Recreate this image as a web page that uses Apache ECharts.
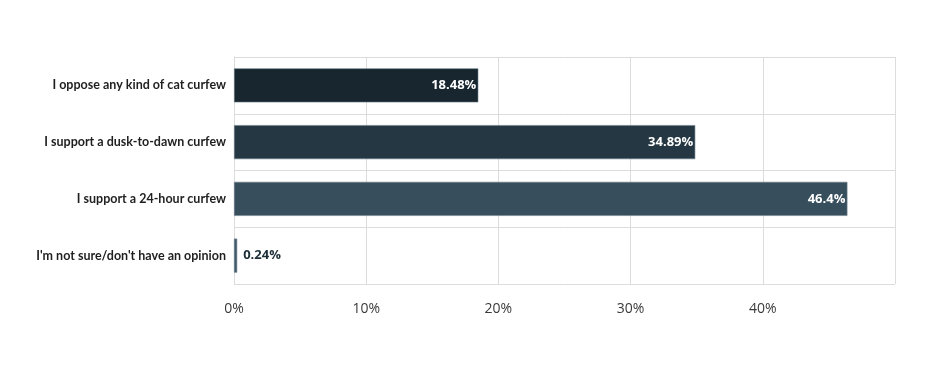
<!DOCTYPE html>
<html><head><meta charset="utf-8">
<script src="https://cdn.jsdelivr.net/npm/echarts@6/dist/echarts.min.js"></script>
<style>html,body{margin:0;padding:0;background:#fff}#c{width:950px;height:388px}</style>
</head><body><div id="c"></div>
<script>
var categories = ["I oppose any kind of cat curfew", "I support a dusk-to-dawn curfew", "I support a 24-hour curfew", "I'm not sure/don't have an opinion"];
var values = [18.48, 34.89, 46.4, 0.24];
var barColors = ["#17262f", "#243742", "#374e5d", "#3d5869"];
var xTicks = [0, 10, 20, 30, 40, 50];

var chart = echarts.init(document.getElementById('c'), null, {renderer: 'canvas'});
var data = values.map(function (v, i) {
  var inside = v > 5;
  return {
    value: v,
    itemStyle: {color: barColors[i], borderColor: '#6d808b', borderWidth: 0.6},
    label: inside ? {position: 'insideRight', color: '#ffffff', offset: [3, 0]} : {position: 'right', color: '#1c2e38', offset: [1, 0]}
  };
});
chart.setOption({
  animation: false,
  grid: {left: 234, right: 55, top: 57, bottom: 104, containLabel: false},
  xAxis: {
    type: 'value', min: xTicks[0], max: xTicks[xTicks.length - 1], interval: 10,
    axisLine: {show: false}, axisTick: {show: false},
    axisLabel: {formatter: '{value}%', showMaxLabel: false, color: '#3a3a3a', fontSize: 14, fontFamily: 'Open Sans', margin: 18},
    splitLine: {show: true, lineStyle: {color: '#dcdcdc', width: 1}}
  },
  yAxis: {
    type: 'category', data: categories, inverse: true,
    axisLine: {show: true, lineStyle: {color: '#dcdcdc'}}, axisTick: {show: false},
    axisLabel: {color: '#1f1f1f', fontSize: 12.5, fontWeight: 'bold', fontFamily: 'Lato', margin: 8},
    splitLine: {show: true, lineStyle: {color: '#dcdcdc', width: 1}}
  },
  series: [{
    type: 'bar', data: data, barWidth: '60%',
    label: {show: true, formatter: function (p) { return p.value + '%'; }, fontSize: 13, fontWeight: 'bold', fontFamily: 'Open Sans'}
  }]
});
</script></body></html>
